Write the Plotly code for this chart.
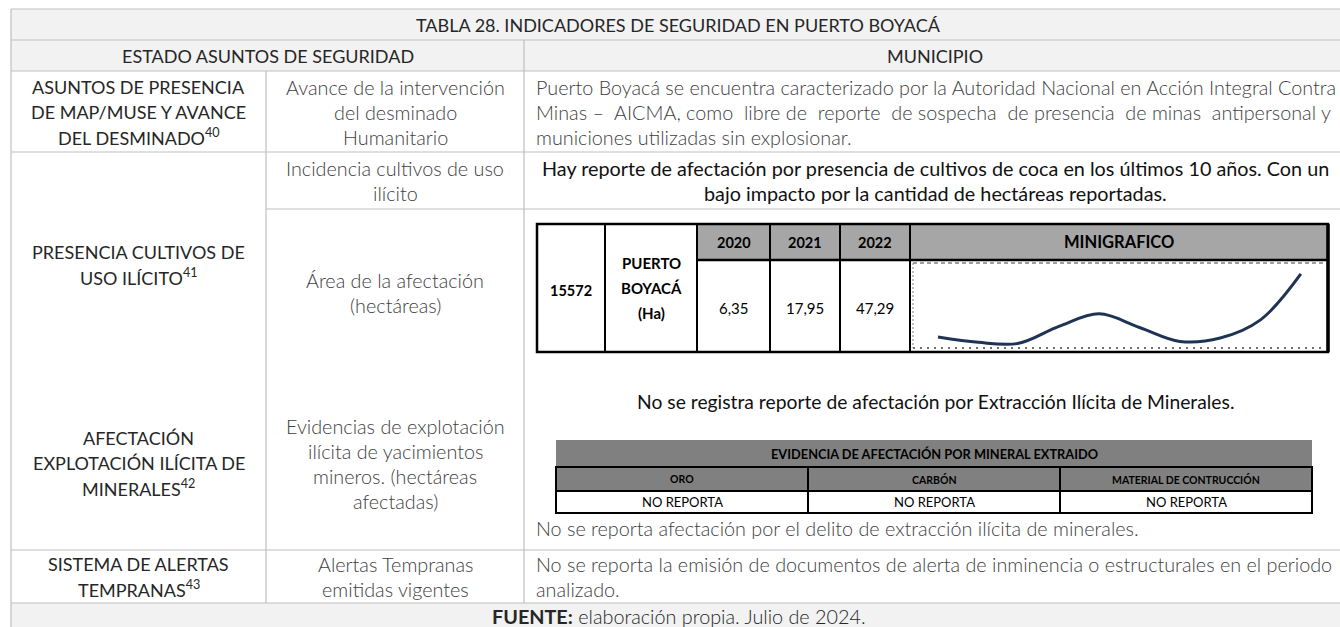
import plotly.graph_objects as go

# ---------------- data ----------------
title_text = "TABLA 28. INDICADORES DE SEGURIDAD EN PUERTO BOYACÁ"
header_left = "ESTADO ASUNTOS DE SEGURIDAD"
header_right = "MUNICIPIO"

col1_labels = [
    ["ASUNTOS DE PRESENCIA", "DE MAP/MUSE Y AVANCE", "DEL DESMINADO<sup>40</sup>"],
    ["PRESENCIA CULTIVOS DE", "USO ILÍCITO<sup>41</sup>"],
    ["AFECTACIÓN", "EXPLOTACIÓN ILÍCITA DE", "MINERALES<sup>42</sup>"],
    ["SISTEMA DE ALERTAS", "TEMPRANAS<sup>43</sup>"],
]
col2_labels = [
    ["Avance de la intervención", "del desminado", "Humanitario"],
    ["Incidencia cultivos de uso", "ilícito"],
    ["Área de la afectación", "(hectáreas)"],
    ["Evidencias de explotación", "ilícita de yacimientos", "mineros. (hectáreas", "afectadas)"],
    ["Alertas Tempranas", "emitidas vigentes"],
]
row_a_text = [
    "Puerto Boyacá se encuentra caracterizado por la Autoridad Nacional en Acción Integral Contra",
    "Minas – AICMA, como libre de reporte de sospecha de presencia de minas antipersonal y",
    "municiones utilizadas sin explosionar.",
]
row_b_text = [
    "Hay reporte de afectación por presencia de cultivos de coca en los últimos 10 años. Con un",
    "bajo impacto por la cantidad de hectáreas reportadas.",
]
muni_code = "15572"
muni_name = ["PUERTO", "BOYACÁ", "(Ha)"]
table_years = ["2020", "2021", "2022"]
table_values = ["6,35", "17,95", "47,29"]
spark_header = "MINIGRAFICO"
spark_years = [2013, 2014, 2015, 2016, 2017, 2018, 2019, 2020, 2021, 2022]
spark_values = [7.0, 3.6, 3.0, 13.8, 21.8, 13.1, 4.2, 6.35, 17.95, 47.29]

row_c_title = "No se registra reporte de afectación por Extracción Ilícita de Minerales."
mineral_title = "EVIDENCIA DE AFECTACIÓN POR MINERAL EXTRAIDO"
minerals = ["ORO", "CARBÓN", "MATERIAL DE CONTRUCCIÓN"]
mineral_status = ["NO REPORTA", "NO REPORTA", "NO REPORTA"]
row_c_note = "No se reporta afectación por el delito de extracción ilícita de minerales."
row_d_text = [
    "No se reporta la emisión de documentos de alerta de inminencia o estructurales en el periodo",
    "analizado.",
]
footer_text = "<b>FUENTE:</b> elaboración propia. Julio de 2024."

# ---------------- layout geometry ----------------
W, H = 1340, 627
X0, X1, X2, X3 = 11, 266, 524, 1346
Y0, YT, YH, YA, YB1, YB2, YC, YD, YF = 9, 40, 71, 152, 209, 376, 550, 603, 640

GRID = "#bfbfbf"
HDR_BG = "#f2f2f2"
FONT = "Lato"
C_DARK = "#262626"
C_BODY = "#404040"
LS = 25          # line spacing
F_UP = 18        # upper-case labels
F_TX = 19.8      # body text

shapes = []
annotations = []


def rect(x0, y0, x1, y1, fill=None, color=GRID, width=1.2, dash=None):
    line = dict(color=color, width=width)
    if dash:
        line["dash"] = dash
    shapes.append(dict(type="rect", xref="x", yref="y", x0=x0, y0=y0, x1=x1, y1=y1,
                       fillcolor=fill if fill else "rgba(0,0,0,0)", line=line, layer="below"))


def hline(x0, x1, y, color=GRID, width=1.2, dash=None):
    line = dict(color=color, width=width)
    if dash:
        line["dash"] = dash
    shapes.append(dict(type="line", xref="x", yref="y", x0=x0, x1=x1, y0=y, y1=y, line=line))


def vline(x, y0, y1, color=GRID, width=1.2, dash=None):
    line = dict(color=color, width=width)
    if dash:
        line["dash"] = dash
    shapes.append(dict(type="line", xref="x", yref="y", x0=x, x1=x, y0=y0, y1=y1, line=line))


def txt(x, y, s, size=F_TX, color=C_BODY, weight=400, anchor="center", family=FONT):
    annotations.append(dict(x=x, y=y, xref="x", yref="y", text=s, showarrow=False,
                            xanchor=anchor, yanchor="middle",
                            font=dict(family=family, size=size, color=color, weight=weight)))


def block(xc, yc, lines, anchor="center", **kw):
    n = len(lines)
    for i, s in enumerate(lines):
        txt(xc, yc + (i - (n - 1) / 2) * LS, s, anchor=anchor, **kw)


def justify(line, wide_gaps):
    """widen a line by doubling the listed word gaps (justified paragraph look)"""
    words = line.split(" ")
    out = words[0]
    for i, w in enumerate(words[1:]):
        out += (" \u00a0" if i in wide_gaps else " ") + w
    return out


# header backgrounds
rect(X0, Y0, X3, YH, fill=HDR_BG, width=0)
rect(X0, YD, X3, YF, fill=HDR_BG, width=0)

# grid
for y in [Y0, YT, YH, YA, YC, YD]:
    hline(X0, X3, y)
hline(X1, X3, YB1)
vline(X0, Y0, YF)
vline(X2, YT, YD)
vline(X1, YH, YD)

# header texts
txt((X0 + X3) / 2, (Y0 + YT) / 2, title_text, size=F_UP, color=C_DARK)
txt((X0 + X2) / 2, (YT + YH) / 2, header_left, size=F_UP, color=C_DARK)
txt((X2 + X3) / 2, (YT + YH) / 2, header_right, size=F_UP, color=C_DARK)

c1 = (X0 + X1) / 2
c2 = (X1 + X2) / 2
c3 = (X2 + X3) / 2
tx = X2 + 10

# column 1
block(c1, (YH + YA) / 2, col1_labels[0], size=F_UP, color=C_DARK)
block(c1, (YA + YB2) / 2, col1_labels[1], size=F_UP, color=C_DARK)
block(c1, (YB2 + YC) / 2, col1_labels[2], size=F_UP, color=C_DARK)
block(c1, (YC + YD) / 2, col1_labels[3], size=F_UP, color=C_DARK)

# column 2
block(c2, (YH + YA) / 2, col2_labels[0], weight=300)
block(c2, (YA + YB1) / 2, col2_labels[1], weight=300)
block(c2, (YB1 + YB2) / 2, col2_labels[2], weight=300)
block(c2, (YB2 + YC) / 2, col2_labels[3], weight=300)
block(c2, (YC + YD) / 2, col2_labels[4], weight=300)

# column 3
row_a_lines = [row_a_text[0], justify(row_a_text[1], {1, 3, 5, 6, 8, 10, 12}), row_a_text[2]]
block(tx, (YH + YA) / 2, row_a_lines, anchor="left", weight=300)
block(c3, (YA + YB1) / 2, row_b_text, color="#111111")

# ---- inner crop table ----
TX = [537, 605, 697, 770, 840, 910, 1328]
TY0, TY1, TY2 = 224, 260, 352
BLK = "#000000"
for i in range(2, 6):
    rect(TX[i], TY0, TX[i + 1], TY1, fill="#a6a6a6", width=0)
rect(TX[0], TY0, TX[6], TY2, color=BLK, width=2.5)
hline(TX[2], TX[6], TY1, color=BLK, width=2.5)
for i in range(1, 6):
    vline(TX[i], TY0, TY2, color=BLK, width=2)
vline(TX[6], TY0, TY2, color=BLK, width=3.5)

txt((TX[0] + TX[1]) / 2, 290, "<b>" + muni_code + "</b>", size=14.5, color="#000")
block((TX[1] + TX[2]) / 2, 288, ["<b>" + s + "</b>" for s in muni_name], size=15, color="#000")
for i in range(3):
    txt((TX[i + 2] + TX[i + 3]) / 2, (TY0 + TY1) / 2, "<b>" + table_years[i] + "</b>", size=14.5, color="#000")
    txt((TX[i + 2] + TX[i + 3]) / 2, 308, table_values[i], size=15, color="#000")
txt((TX[5] + TX[6]) / 2, (TY0 + TY1) / 2, "<b>" + spark_header + "</b>", size=16.5, color="#000")

# sparkline frame
GX0, GX1, GY0, GY1 = 913, 1325, 263, 348
hline(GX0, GX1, GY0, color="#7f7f7f", width=1.5, dash="4px,3px")
hline(GX0, GX1, GY1, color="#404040", width=1.5, dash="2px,5px")
vline(GX0, GY0, GY1, color="#7f7f7f", width=1, dash="2px,2px")

# ---- row C ----
txt(c3, 401, row_c_title, size=19.3, color="#111111")
MX = [556, 808, 1060, 1312]
MY = [440, 467, 491, 513]
rect(MX[0], MY[0], MX[3], MY[1], fill="#808080", width=0)
rect(MX[0], MY[1], MX[3], MY[2], fill="#808080", color=BLK, width=2)
rect(MX[0], MY[2], MX[3], MY[3], fill="#ffffff", color=BLK, width=2)
for i in (1, 2):
    vline(MX[i], MY[1], MY[3], color=BLK, width=2)
txt((MX[0] + MX[3]) / 2, (MY[0] + MY[1]) / 2, "<b>" + mineral_title + "</b>", size=12.8, color="#000")
for i in range(3):
    xm = (MX[i] + MX[i + 1]) / 2
    txt(xm, (MY[1] + MY[2]) / 2, "<b>" + minerals[i] + "</b>", size=10.5, color="#000")
    txt(xm, (MY[2] + MY[3]) / 2, mineral_status[i], size=13, color="#000")
txt(tx, 528, row_c_note, anchor="left", weight=300)

# ---- row D ----
block(tx, (YC + YD) / 2, row_d_text, anchor="left", weight=300)

# footer
txt((X0 + X3) / 2, (YD + 627) / 2 + 1, footer_text, color=C_DARK, weight=300)

fig = go.Figure()
fig.add_trace(go.Scatter(x=spark_years, y=spark_values, mode="lines",
                         line=dict(color="#1f3354", width=3, shape="spline", smoothing=1.0),
                         xaxis="x2", yaxis="y2", hoverinfo="skip", showlegend=False))

fig.update_layout(
    width=W, height=H,
    margin=dict(l=0, r=0, t=0, b=0),
    paper_bgcolor="white", plot_bgcolor="white",
    xaxis=dict(range=[0, W], visible=False, fixedrange=True),
    yaxis=dict(range=[H, 0], visible=False, fixedrange=True),
    xaxis2=dict(domain=[GX0 / W, GX1 / W], range=[2012.38, 2022.6], visible=False, anchor="y2"),
    yaxis2=dict(domain=[1 - GY1 / H, 1 - GY0 / H], range=[0, 54.3], visible=False, anchor="x2"),
    shapes=shapes,
    annotations=annotations,
    showlegend=False,
)

fig.write_html("out.html", config={"displayModeBar": False},
               post_script="document.body.style.margin='0px';document.body.style.overflow='hidden';")
